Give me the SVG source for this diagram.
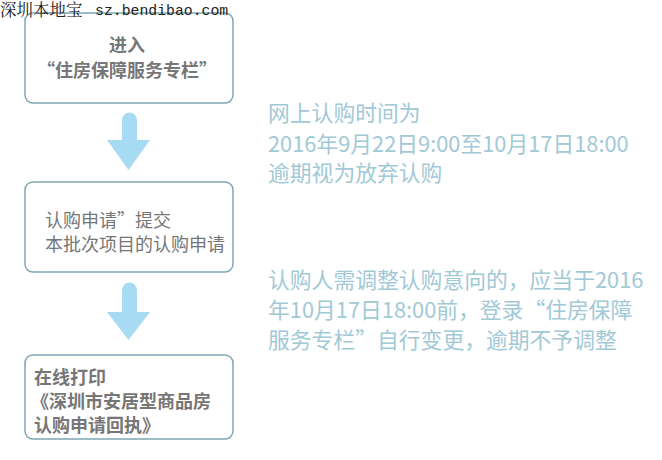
<svg xmlns="http://www.w3.org/2000/svg" width="662" height="460" viewBox="0 0 662 460">
<style>
.box{fill:#fff;stroke:#7ea6b3;stroke-width:1.5}
.bt{font-family:"Noto Sans CJK SC","Noto Sans",sans-serif;font-size:18px;fill:#767676}
.b{font-weight:bold}
.rt{font-family:"Noto Sans CJK SC","Noto Sans",sans-serif;font-size:21.8px;fill:#a1c9d6}
.arr{fill:#a7dbf4}
.wm{font-size:16.5px;fill:#222}
</style>
<rect width="662" height="460" fill="#fff"/>
<g id="node1">
<rect class="box" x="25" y="13" width="208" height="90" rx="8"/>
<text class="bt b" x="127" y="52" text-anchor="middle">进入</text>
<text class="bt b" x="127" y="77" text-anchor="middle">“住房保障服务专栏”</text>
</g>
<g id="node2">
<rect class="box" x="25" y="182" width="208" height="90" rx="8"/>
<text class="bt" x="45" y="227">认购申请”提交</text>
<text class="bt" x="45" y="251">本批次项目的认购申请</text>
</g>
<g id="node3">
<rect class="box" x="25" y="355" width="208" height="84" rx="8"/>
<text class="bt b" x="34" y="384">在线打印</text>
<text class="bt b" x="31" y="408">《深圳市安居型商品房</text>
<text class="bt b" x="34" y="432">认购申请回执》</text>
</g>
<g id="connectors">
<path class="arr" d="M122,120 a7.5,7.5 0 0 1 15,0 V140 H150 L128.5,170 L107,140 H122 Z"/>
<path class="arr" d="M122,290 a7.5,7.5 0 0 1 15,0 V312 H150 L128.5,340 L107,312 H122 Z"/>
</g>
<g id="notes">
<text class="rt" x="268" y="121">网上认购时间为</text>
<text class="rt" x="268" y="152">2016年9月22日9:00至10月17日18:00</text>
<text class="rt" x="268" y="181">逾期视为放弃认购</text>
<text class="rt" x="268" y="288">认购人需调整认购意向的，应当于2016</text>
<text class="rt" x="268" y="318">年10月17日18:00前，登录“住房保障</text>
<text class="rt" x="268" y="348">服务专栏”自行变更，逾期不予调整</text>
</g>
<g id="watermark">
<text class="wm" x="0" y="16" font-family="'Noto Serif CJK SC','Noto Sans CJK SC',serif">深圳本地宝</text>
<text x="95" y="15" font-family="'Liberation Mono',monospace" font-size="14.8px" fill="#222">sz.bendibao.com</text>
</g>
</svg>
